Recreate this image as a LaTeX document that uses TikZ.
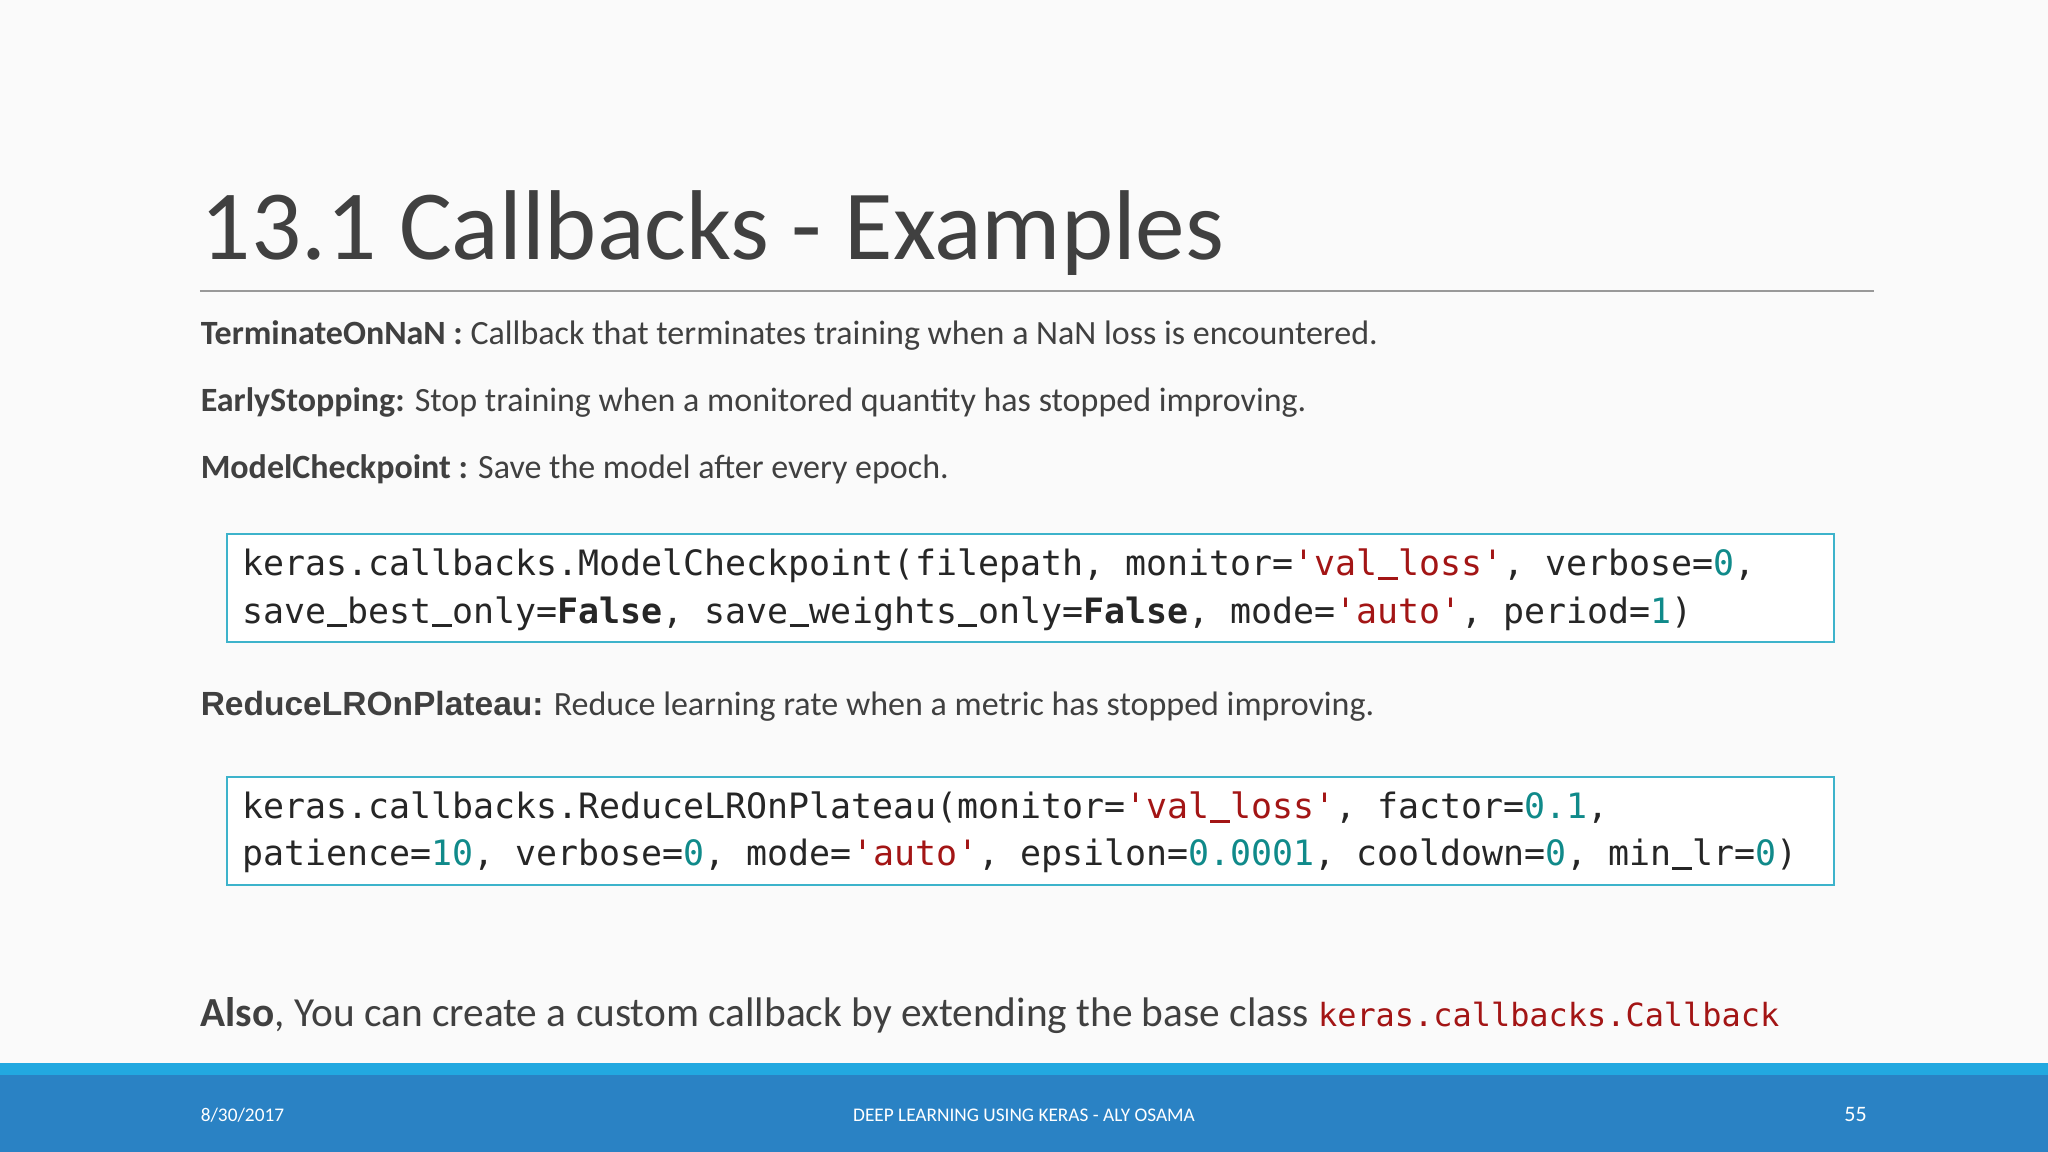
\documentclass[tikz,border=0pt]{standalone}
\usepackage{fontspec}
\setmainfont{Carlito}
\setmonofont{DejaVu Sans Mono}
\newfontfamily\arialf{Liberation Sans}
\definecolor{kw}{HTML}{A31515}
\definecolor{num}{HTML}{108A8A}
\definecolor{boxc}{HTML}{3DB3CB}
\definecolor{barc}{HTML}{2A82C4}
\definecolor{stripc}{HTML}{22A8E0}
\definecolor{titc}{HTML}{404040}
\newcommand{\us}{\makebox[0.602em][c]{\rule[-0.12em]{0.56em}{0.08em}}}
\newcommand{\sq}[1]{\textcolor{kw}{'#1'}}
\newcommand{\nm}[1]{\textcolor{num}{#1}}
\begin{document}
\begin{tikzpicture}[x=0.01cm,y=-0.01cm,
  txt/.style={anchor=base west,inner sep=0,font=\fontsize{7.4pt}{8pt}\selectfont,text=titc},
  code/.style={draw=boxc,line width=0.45pt,fill=white,minimum width=12.3cm,minimum height=0.83cm,anchor=north west,inner sep=0},
  ctext/.style={anchor=base west,inner sep=0,font=\fontsize{7.6pt}{9pt}\ttfamily,text=black!85},
  foot/.style={font=\fontsize{4.2pt}{5pt}\selectfont,text=white,inner sep=0}]
\useasboundingbox (0,0) rectangle (1568,882);
\fill[white!98!black] (0,0) rectangle (1568,882);
\node[anchor=base west,inner sep=0,font=\fontsize{21.6pt}{26pt}\selectfont,text=titc] (title) at (153,199) {13.1 Callbacks - Examples};
\draw[black!40,line width=0.5pt] (153,223) -- (1435,223);
\node[txt] (t1) at (153,264) {\textbf{TerminateOnNaN :} Callback that terminates training when a NaN loss is encountered.};
\node[txt] (t2) at (153,315) {\textbf{EarlyStopping:} Stop training when a monitored quantity has stopped improving.};
\node[txt] (t3) at (153,366) {\textbf{ModelCheckpoint :} Save the model after every epoch.};
\node[code] (b1) at (173,408) {};
\node[ctext] (c1) at (185,441) {keras.callbacks.ModelCheckpoint(filepath, monitor=\sq{val\us loss}, verbose=\nm{0},};
\node[ctext] (c2) at (185,477) {save\us best\us only=\textbf{False}, save\us weights\us only=\textbf{False}, mode=\sq{auto}, period=\nm{1})};
\node[txt] (t4) at (153,548) {{\arialf\bfseries\fontsize{7.3pt}{8pt}\selectfont ReduceLROnPlateau:} Reduce learning rate when a metric has stopped improving.};
\node[code] (b2) at (173,594) {};
\node[ctext] (c3) at (185,627) {keras.callbacks.ReduceLROnPlateau(monitor=\sq{val\us loss}, factor=\nm{0.1},};
\node[ctext] (c4) at (185,663) {patience=\nm{10}, verbose=\nm{0}, mode=\sq{auto}, epsilon=\nm{0.0001}, cooldown=\nm{0}, min\us lr=\nm{0})};
\node[txt,font=\fontsize{9pt}{10pt}\selectfont] (t5) at (153,786) {\textbf{Also}, You can create a custom callback by extending the base class {\ttfamily\fontsize{6.95pt}{8pt}\selectfont\textcolor{kw}{keras.callbacks.Callback}}};
\fill[stripc] (0,814) rectangle (1568,823);
\fill[barc] (0,823) rectangle (1568,882);
\node[foot,anchor=base west] (f1) at (153,859) {8/30/2017};
\node[foot,anchor=base] (f2) at (784,859) {DEEP LEARNING USING KERAS - ALY OSAMA};
\node[foot,anchor=base east,font=\fontsize{4.8pt}{5pt}\selectfont] (f3) at (1430,859) {55};
\end{tikzpicture}
\end{document}
